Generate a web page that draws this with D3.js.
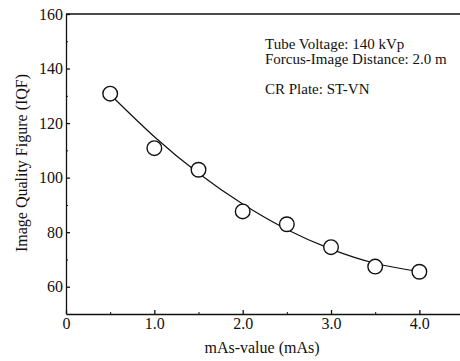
<!DOCTYPE html>
<html>
<head>
<meta charset="utf-8">
<script src="https://cdn.jsdelivr.net/npm/d3@7"></script>
<style>
  body { margin: 0; background: #fff; }
  svg { display: block; }
  text { font-family: "Liberation Serif", "DejaVu Serif", serif; fill: #111; }
</style>
</head>
<body>
<div id="chart"></div>
<script>
// measured points
const mAs = [0.5, 1.0, 1.5, 2.0, 2.5, 3.0, 3.5, 4.0];
const iqf = [130.8, 110.8, 102.9, 87.6, 82.9, 74.5, 67.4, 65.5];

// fitted curve
const fitX = [0.5, 1.0, 1.5, 2.0, 2.5, 3.0, 3.5, 4.0];
const fitY = [130.5, 115, 101.6, 90.3, 81, 73.8, 68.6, 65.5];

const xTicks = [0, 1, 2, 3, 4];
const xTickLabels = ['0', '1.0', '2.0', '3.0', '4.0'];
const xMinor = [0.5, 1.5, 2.5, 3.5];
const yTicks = [60, 80, 100, 120, 140, 160];
const yMinor = [70, 90, 110, 130, 150];

const notes = ['Tube Voltage: 140 kVp', 'Forcus-Image Distance: 2.0 m', '', 'CR Plate: ST-VN'];

const width = 460;
const height = 361;

const svg = d3.select('#chart')
  .append('svg')
  .attr('width', width)
  .attr('height', height);

const x = d3.scaleLinear()
  .domain([0, 4.46])
  .range([66, 460]);

const y = d3.scaleLinear()
  .domain([50, 160])
  .range([314, 14]);

// y axis, ticks pointing inward
const yAxis = d3.axisLeft(y)
  .tickValues(yTicks)
  .tickSizeInner(-4)
  .tickSizeOuter(0)
  .tickPadding(3);

svg.append('g')
  .attr('transform', `translate(${x(0)},0)`)
  .call(yAxis)
  .call(g => g.selectAll('text').attr('font-size', 16).attr('font-family', 'Liberation Serif').attr('fill', '#111'))
  .call(g => g.selectAll('line, path').attr('stroke', '#111').attr('stroke-width', 1.3));

svg.append('g')
  .attr('transform', `translate(${x(0)},0)`)
  .call(d3.axisLeft(y).tickValues(yMinor).tickSizeInner(-2).tickSizeOuter(0).tickFormat(''))
  .call(g => g.select('.domain').remove())
  .call(g => g.selectAll('line').attr('stroke', '#111'));

// x axis
const xAxis = d3.axisBottom(x)
  .tickValues(xTicks)
  .tickFormat((d, i) => xTickLabels[i])
  .tickSizeInner(-4)
  .tickSizeOuter(0)
  .tickPadding(4);

svg.append('g')
  .attr('transform', `translate(0,${y(50)})`)
  .call(xAxis)
  .call(g => g.selectAll('text').attr('font-size', 16).attr('font-family', 'Liberation Serif').attr('fill', '#111'))
  .call(g => g.selectAll('line, path').attr('stroke', '#111').attr('stroke-width', 1.3));

svg.append('g')
  .attr('transform', `translate(0,${y(50)})`)
  .call(d3.axisBottom(x).tickValues(xMinor).tickSizeInner(-2).tickSizeOuter(0).tickFormat(''))
  .call(g => g.select('.domain').remove())
  .call(g => g.selectAll('line').attr('stroke', '#111'));

// top frame line
svg.append('line')
  .attr('x1', x(0))
  .attr('x2', x(4.46))
  .attr('y1', y(160))
  .attr('y2', y(160))
  .attr('stroke', '#111')
  .attr('stroke-width', 1.3);

// fitted curve
const line = d3.line()
  .x((d, i) => x(fitX[i]))
  .y(d => y(d))
  .curve(d3.curveNatural);

svg.append('path')
  .datum(fitY)
  .attr('d', line)
  .attr('fill', 'none')
  .attr('stroke', '#111')
  .attr('stroke-width', 1.2);

// points
svg.selectAll('.pt')
  .data(iqf)
  .enter()
  .append('circle')
  .attr('class', 'pt')
  .attr('cx', (d, i) => x(mAs[i]))
  .attr('cy', d => y(d))
  .attr('r', 7.3)
  .attr('fill', '#fff')
  .attr('stroke', '#111')
  .attr('stroke-width', 1.4);

// notes
svg.selectAll('.note')
  .data(notes)
  .enter()
  .append('text')
  .attr('class', 'note')
  .attr('x', 265)
  .attr('y', (d, i) => 49 + i * 15)
  .attr('font-size', 15)
  .text(d => d);

// axis titles
svg.append('text')
  .attr('x', 262)
  .attr('y', 353)
  .attr('text-anchor', 'middle')
  .attr('font-size', 16)
  .text('mAs-value (mAs)');

svg.append('text')
  .attr('transform', 'rotate(-90)')
  .attr('x', -163)
  .attr('y', 27)
  .attr('text-anchor', 'middle')
  .attr('font-size', 16)
  .text('Image Quality Figure (IQF)');
</script>
</body>
</html>
